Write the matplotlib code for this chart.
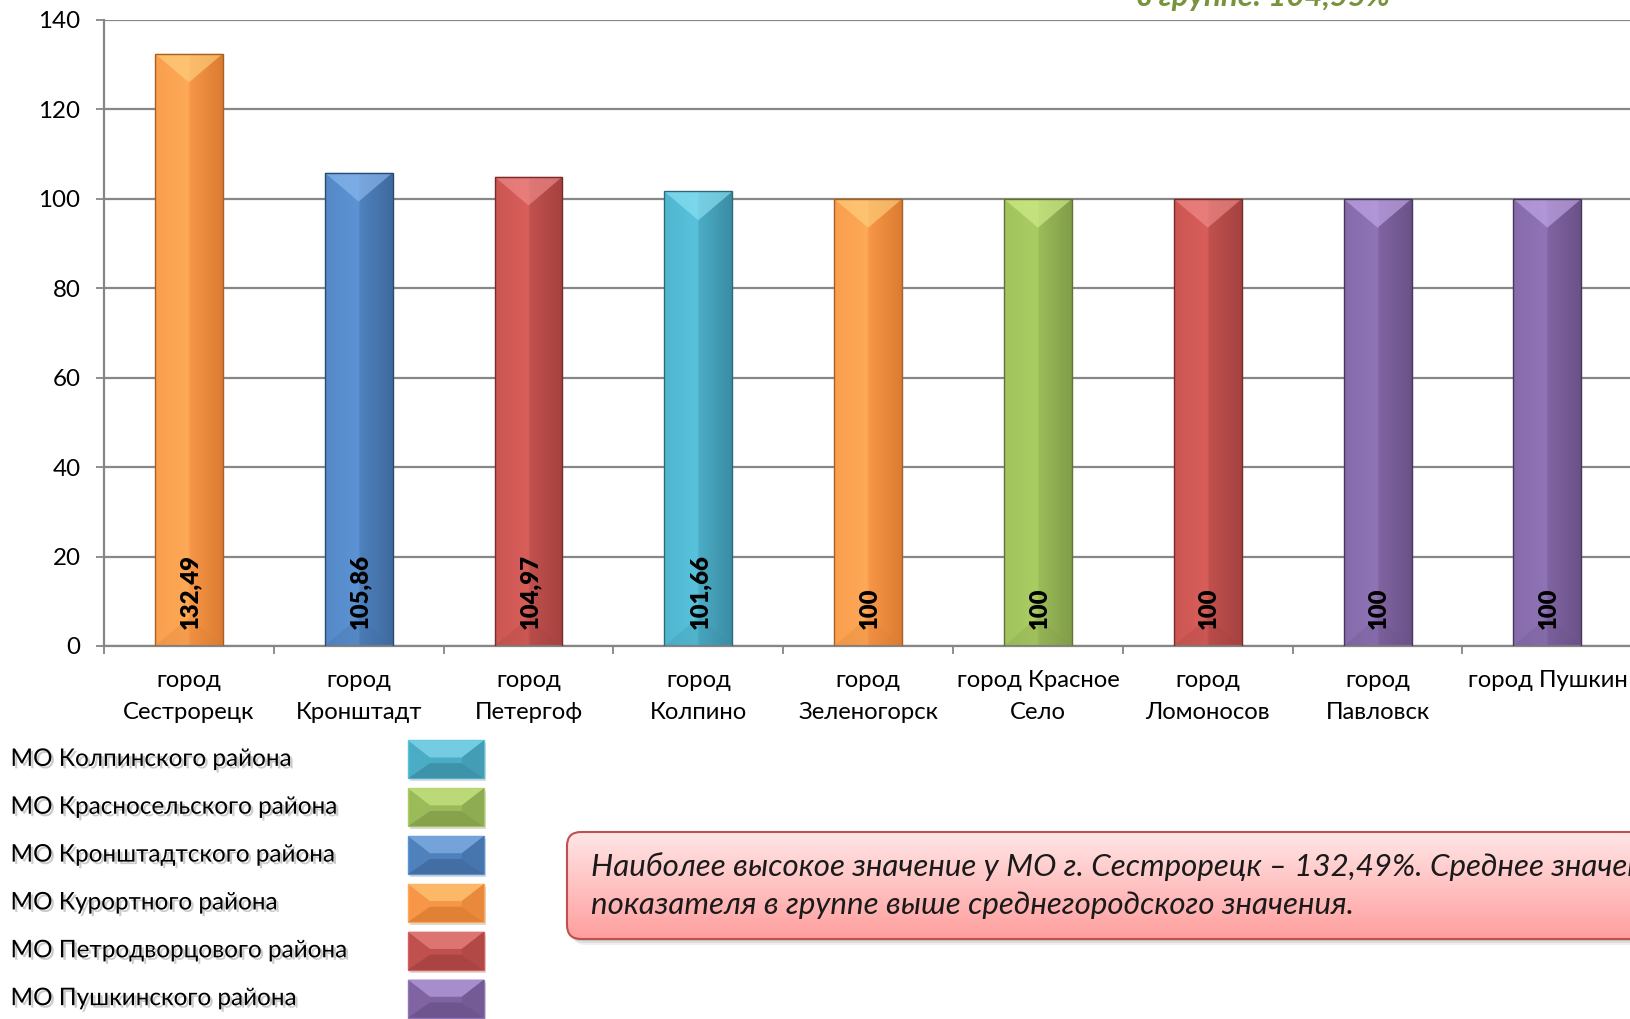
import numpy as np
import matplotlib
matplotlib.use('Agg')
import matplotlib.pyplot as plt
from matplotlib import font_manager
from matplotlib.ft2font import FT2Font
from matplotlib.colors import to_rgb
from matplotlib.patches import Polygon, FancyBboxPatch
import matplotlib.patheffects as pe

# ---------------- data ----------------
categories = ['город\nСестрорецк', 'город\nКронштадт', 'город\nПетергоф', 'город\nКолпино',
              'город\nЗеленогорск', 'город Красное\nСело', 'город\nЛомоносов', 'город\nПавловск',
              'город Пушкин']
values = [132.49, 105.86, 104.97, 101.66, 100, 100, 100, 100, 100]
value_labels = ['132,49', '105,86', '104,97', '101,66', '100', '100', '100', '100', '100']
bar_groups = ['Курортного', 'Кронштадтского', 'Петродворцового', 'Колпинского', 'Курортного',
              'Красносельского', 'Петродворцового', 'Пушкинского', 'Пушкинского']
legend_groups = ['Колпинского', 'Красносельского', 'Кронштадтского', 'Курортного',
                 'Петродворцового', 'Пушкинского']
legend_labels = ['МО Колпинского района', 'МО Красносельского района', 'МО Кронштадтского района',
                 'МО Курортного района', 'МО Петродворцового района', 'МО Пушкинского района']
y_ticks = [0, 20, 40, 60, 80, 100, 120, 140]
note_lines = ['Наиболее высокое значение у МО г. Сестрорецк – 132,49%. Среднее значение',
              'показателя в группе выше среднегородского значения.']
avg_line = 'в группе: 104,55%'

# ---------------- style ----------------
palette = {
    'Колпинского':     dict(base='#4BACC6', light='#58C2DC', dark='#3A8DA3', top='#93E6F8', edge='#2C6A7A'),
    'Красносельского': dict(base='#9BBB59', light='#AACD63', dark='#819D49', top='#D6F290', edge='#5E7334'),
    'Кронштадтского':  dict(base='#4F81BD', light='#5C93D4', dark='#3F6A9E', top='#92BEF2', edge='#2B4A70'),
    'Курортного':      dict(base='#F79646', light='#FDA957', dark='#DB7C32', top='#FFD582', edge='#A85F22'),
    'Петродворцового': dict(base='#C0504D', light='#D95E5A', dark='#A54240', top='#F39290', edge='#772C2A'),
    'Пушкинского':     dict(base='#8064A2', light='#8F74B6', dark='#6A5288', top='#C9AEEE', edge='#46375C'),
}


def has_cyr(fam):
    try:
        path = font_manager.findfont(font_manager.FontProperties(family=fam), fallback_to_default=False)
        return FT2Font(path).get_char_index(ord('Ж')) != 0
    except Exception:
        return False


FONT = 'Lato' if has_cyr('Lato') else 'Open Sans'
plt.rcParams['font.family'] = [FONT, 'DejaVu Sans']


def mix(c1, c2, t):
    a, b = np.array(to_rgb(c1)), np.array(to_rgb(c2))
    return a * (1 - t) + b * t


def grad_array(stops, colors, n=128, horizontal=True):
    t = np.linspace(0, 1, n)
    cols = np.array([to_rgb(c) if isinstance(c, str) else c for c in colors])
    arr = np.stack([np.interp(t, stops, cols[:, k]) for k in range(3)], axis=-1)
    return arr[None, :, :] if horizontal else arr[:, None, :]


W, H = 1631, 1019
fig = plt.figure(figsize=(W / 100, H / 100), dpi=100)
fig.patch.set_facecolor('white')

ax = fig.add_axes([104 / W, 1 - 646 / H, (1632.3 - 104) / W, (646 - 20) / H])
x = np.arange(len(values))
bars = ax.bar(x, values, width=0.4, color=[palette[g]['base'] for g in bar_groups],
              zorder=2, linewidth=0)
ax.set_xlim(-0.5, len(values) - 0.5)
ax.set_ylim(0, 140)

px_per_unit = ax.get_position().height * H / 140.0
px_per_cat = ax.get_position().width * W / len(values)

for rect, g in zip(bars, bar_groups):
    p = palette[g]
    bx, bw, bh = rect.get_x(), rect.get_width(), rect.get_height()
    arr = grad_array([0, 0.49, 0.52, 1.0],
                     [mix(p['base'], p['light'], 0.45), p['light'], p['base'], p['dark']])
    im = ax.imshow(arr, extent=[bx, bx + bw, 0, bh], aspect='auto', zorder=2.2,
                   interpolation='bilinear')
    im.set_clip_path(rect)
    hw_px = bw * px_per_cat / 2
    d = 0.85 * hw_px / px_per_unit
    top = Polygon([[bx, bh], [bx + bw, bh], [bx + bw / 2, bh - d]], closed=True,
                  fc=p['top'], ec='none', alpha=0.6, zorder=2.4)
    ax.add_patch(top)
    bot = Polygon([[bx, 0], [bx + bw, 0], [bx + bw / 2, d]], closed=True,
                  fc=p['dark'], ec='none', alpha=0.25, zorder=2.4)
    ax.add_patch(bot)

ax.bar(x, values, width=0.4, fill=False,
       edgecolor=[palette[g]['edge'] for g in bar_groups], linewidth=1.0, zorder=2.6)

for xi, lab in zip(x, value_labels):
    ax.annotate(lab, xy=(xi, 0), xytext=(1, 12), textcoords='offset points',
                rotation=90, ha='center', va='bottom', fontsize=17.2, fontweight='heavy',
                color='black', zorder=3)

ax.set_xlim(-0.5, len(values) - 0.5)
ax.set_ylim(0, 140)

ax.set_yticks(y_ticks)
ax.set_yticklabels([str(v) for v in y_ticks])
ax.tick_params(axis='y', direction='out', length=6, width=1.3, color='#868686', pad=11,
               labelsize=17.4, labelcolor='black')
ax.set_xticks(x)
ax.set_xticklabels(categories, fontsize=17.2, linespacing=1.6)
ax.tick_params(axis='x', which='major', length=0, pad=17.5, labelcolor='black')
ax.set_xticks(np.arange(-0.5, len(values)), minor=True)
ax.tick_params(axis='x', which='minor', length=6, width=1.3, color='#868686', direction='out')
ax.yaxis.grid(True, color='#878787', lw=1.6, zorder=0)
ax.set_axisbelow(True)
for s in ['top', 'right']:
    ax.spines[s].set_visible(False)
for s in ['left', 'bottom']:
    ax.spines[s].set_color('#868686')
    ax.spines[s].set_linewidth(1.6)

# ---------------- overlay (legend, note, header) ----------------
ov = fig.add_axes([0, 0, 1, 1], zorder=5)
ov.patch.set_alpha(0)
ov.axis('off')

shadow_fx = [pe.SimplePatchShadow(offset=(1.8, -1.8), shadow_rgbFace='#8c8c8c', alpha=0.45),
             pe.Normal()]

leg_y0, leg_dy = 759.4, 47.85
sw_x0, sw_x1, sw_h = 408, 484, 38.0
for i, (lab, g) in enumerate(zip(legend_labels, legend_groups)):
    p = palette[g]
    cy = leg_y0 + leg_dy * i
    ov.text(10.5, cy, lab, fontsize=17.5, va='center', ha='left', color='black',
            path_effects=shadow_fx)
    y0, y1 = cy - sw_h / 2, cy + sw_h / 2
    b = 0.29 * (sw_x1 - sw_x0)
    m1, m2 = y0 + 0.45 * sw_h, y0 + 0.6 * sw_h
    ov.add_patch(Polygon([[sw_x0 + 2, y0 + 3], [sw_x1 + 2, y0 + 3], [sw_x1 + 2, y1 + 3], [sw_x0 + 2, y1 + 3]],
                         fc='#9a9a9a', ec='none', alpha=0.35))
    ov.add_patch(Polygon([[sw_x0, y0], [sw_x1, y0], [sw_x1, y1], [sw_x0, y1]],
                         fc=p['base'], ec=p['light'], lw=1.0))
    ov.add_patch(Polygon([[sw_x0, y0], [sw_x1, y0], [sw_x1 - b, m1], [sw_x0 + b, m1]],
                         fc=mix(p['base'], p['top'], 0.55), ec='none'))
    ov.add_patch(Polygon([[sw_x0, y1], [sw_x1, y1], [sw_x1 - b, m2], [sw_x0 + b, m2]],
                         fc=p['dark'], ec='none', alpha=0.8))
    ov.add_patch(Polygon([[sw_x1, y0], [sw_x1, y1], [sw_x1 - b, m2], [sw_x1 - b, m1]],
                         fc=mix(p['base'], p['dark'], 0.5), ec='none'))

# note box
bx0, by0, bx1, by1 = 567, 832, 1720, 939
for k, a in enumerate([0.12, 0.16, 0.22]):
    off = 6 - 2 * k
    ov.add_patch(FancyBboxPatch((bx0 + off - 1, by0 + off), bx1 - bx0, by1 - by0,
                                boxstyle='round,pad=0,rounding_size=14',
                                fc='#7f7f7f', ec='none', alpha=a))
box = FancyBboxPatch((bx0, by0), bx1 - bx0, by1 - by0, boxstyle='round,pad=0,rounding_size=14',
                     fc='none', ec='#C0504D', lw=1.5, zorder=3)
ov.add_patch(box)
garr = grad_array([0, 1], ['#FFE6E6', '#FF9E9E'], horizontal=False)
gim = ov.imshow(garr, extent=[bx0, bx1, by1, by0], aspect='auto', interpolation='bilinear', zorder=2)
gim.set_clip_path(box)

ov.text(591, 866.5, note_lines[0], fontsize=22.5, style='italic', va='center', ha='left',
        color='#1a1a1a', zorder=4)
ov.text(591, 905, note_lines[1], fontsize=22.5, style='italic', va='center', ha='left',
        color='#1a1a1a', zorder=4)

# cut-off header line
ov.text(1137, 6, avg_line, fontsize=22.5, style='italic', fontweight='bold', va='baseline',
        ha='left', color='#77933C')

ov.set_xlim(0, W)
ov.set_ylim(H, 0)

fig.savefig('out.png', dpi=100, facecolor='white')
